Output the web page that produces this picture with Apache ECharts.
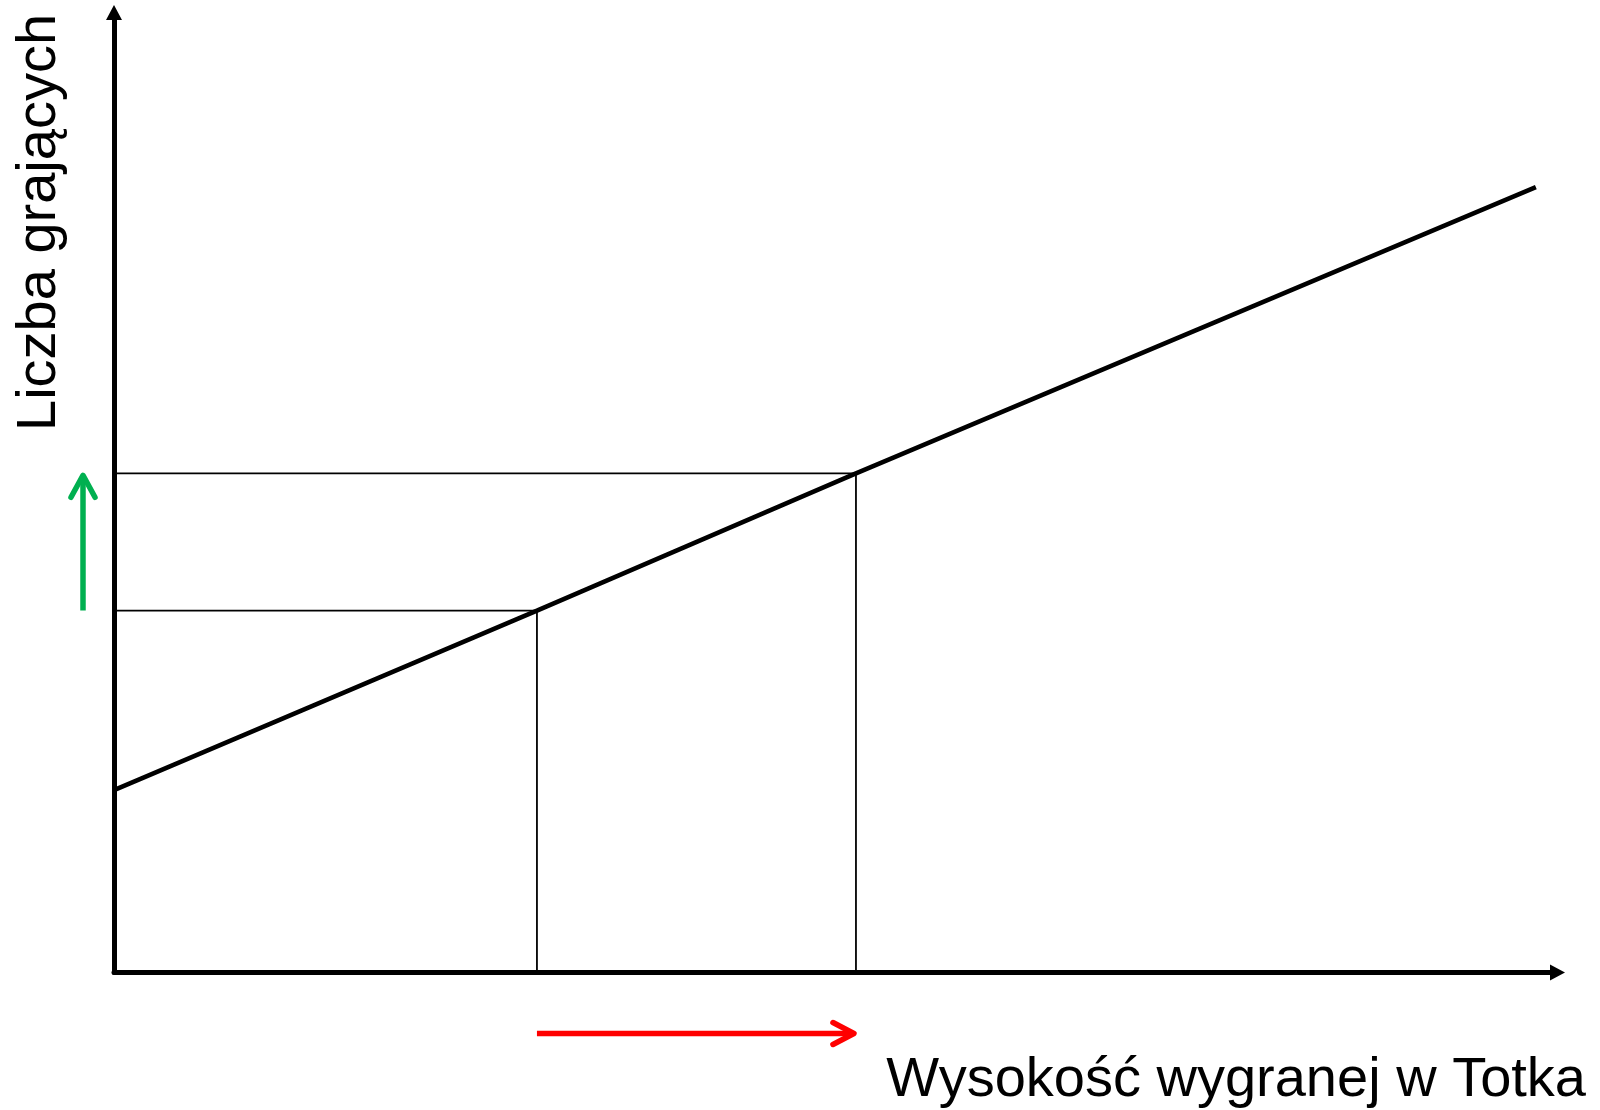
<!DOCTYPE html>
<html><head><meta charset="utf-8">
<script src="https://cdn.jsdelivr.net/npm/echarts@6/dist/echarts.min.js"></script>
<style>html,body{margin:0;padding:0;background:#fff}#c{width:1600px;height:1110px}</style>
</head><body><div id="c"></div>
<script>
// ---- data (arbitrary units) ----
const xLabel = 'Wysokość wygranej w Totka';
const yLabel = 'Liczba grających';
const xRange = [0, 100];
const yRange = [0, 100];
const demandLineX = [0, 29.3, 51.4, 98.5];
const demandLineY = [19.0, 37.7, 52.0, 81.8];
const pointA = [29.3, 37.7];
const pointB = [51.4, 52.0];

const FONT = '"Liberation Sans", Arial, Helvetica, sans-serif';
const chart = echarts.init(document.getElementById('c'), null, {renderer: 'canvas'});

function guide(p) { return [[xRange[0], p[1]], [p[0], p[1]], [p[0], yRange[0]]]; }
const axisCommon = {
  axisTick: {show: false}, axisLabel: {show: false}, splitLine: {show: false},
  axisLine: {show: true, symbol: ['none', 'triangle'], symbolSize: [16, 15],
    lineStyle: {color: '#000', width: 5}}
};

chart.setOption({
  animation: false,
  backgroundColor: '#fff',
  grid: {left: 114, right: 42.5, top: 12.5, bottom: 137.5, containLabel: false},
  xAxis: Object.assign({type: 'value', min: xRange[0], max: xRange[1]}, axisCommon),
  yAxis: Object.assign({type: 'value', min: yRange[0], max: yRange[1]}, axisCommon),
  series: [
    {type: 'line', data: guide(pointA), symbol: 'none', z: 1,
      lineStyle: {color: '#000', width: 1.8}},
    {type: 'line', data: guide(pointB), symbol: 'none', z: 1,
      lineStyle: {color: '#000', width: 1.8}},
    {type: 'line', data: demandLineX.map((x, i) => [x, demandLineY[i]]), symbol: 'none', z: 3,
      lineStyle: {color: '#000', width: 4.6, cap: 'butt'}}
  ]
});

const o = chart.convertToPixel({gridIndex: 0}, [xRange[0], yRange[0]]);
const pA = chart.convertToPixel({gridIndex: 0}, pointA);
const pB = chart.convertToPixel({gridIndex: 0}, pointB);
const gx = o[0] - 31;
const ry = o[1] + 61;
const green = '#00b050', red = '#ff0000';

chart.setOption({
  graphic: [
    {type: 'polyline', shape: {points: [[gx, pA[1]], [gx, pB[1] + 3]]},
      style: {stroke: green, lineWidth: 5.5, lineCap: 'butt', fill: null}},
    {type: 'polyline', shape: {points: [[gx - 12, pB[1] + 24], [gx, pB[1] + 2], [gx + 12, pB[1] + 24]]},
      style: {stroke: green, lineWidth: 5.5, lineCap: 'round', lineJoin: 'round', fill: null}},
    {type: 'polyline', shape: {points: [[pA[0], ry], [pB[0] - 3, ry]]},
      style: {stroke: red, lineWidth: 5.5, lineCap: 'butt', fill: null}},
    {type: 'polyline', shape: {points: [[pB[0] - 23, ry - 11], [pB[0] - 2, ry], [pB[0] - 23, ry + 11]]},
      style: {stroke: red, lineWidth: 5.5, lineCap: 'round', lineJoin: 'round', fill: null}},
    {type: 'text', x: 1586, y: 1081,
      style: {text: xLabel, font: '56px ' + FONT, fill: '#000', textAlign: 'right', textVerticalAlign: 'middle'}},
    {type: 'text', x: 40, y: 431, rotation: Math.PI / 2,
      style: {text: yLabel, font: '56px ' + FONT, fill: '#000', textAlign: 'left', textVerticalAlign: 'middle'}}
  ]
});
</script></body></html>
